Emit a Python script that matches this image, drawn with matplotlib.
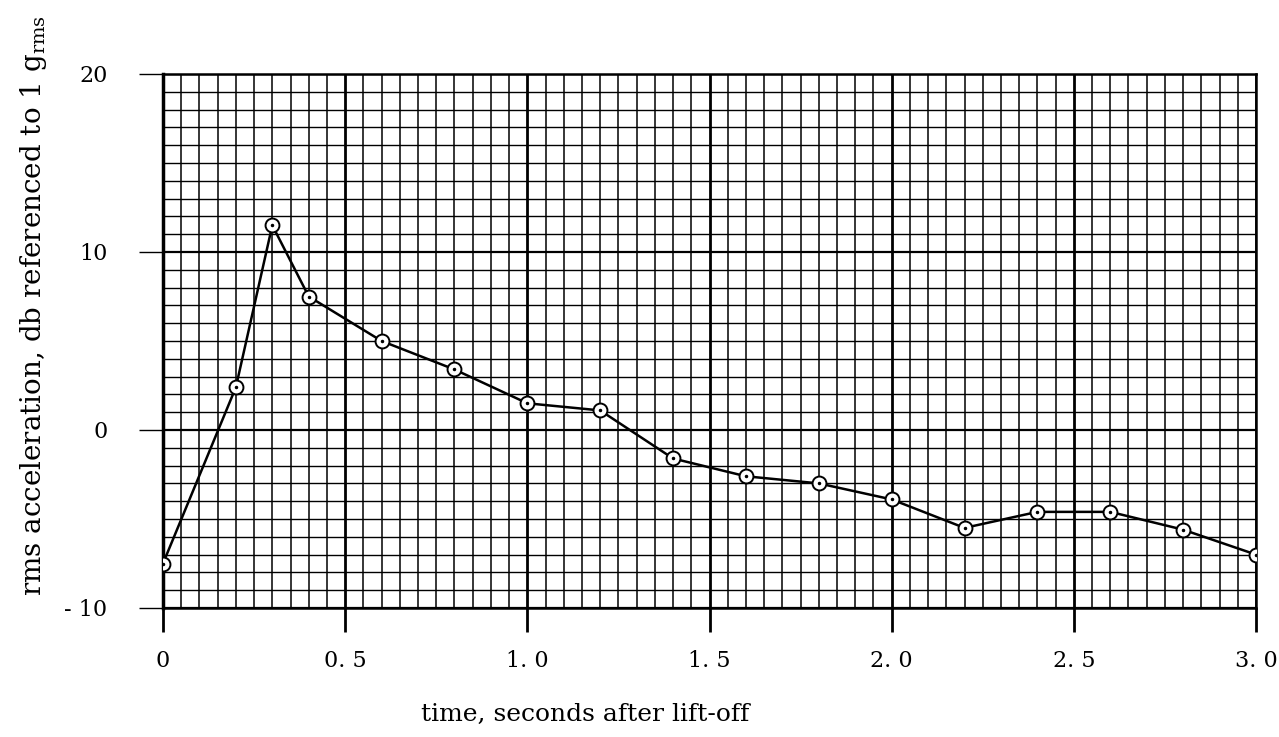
import matplotlib
matplotlib.use("Agg")
import matplotlib.pyplot as plt
import numpy as np

# values
time_s = [0.0, 0.2, 0.3, 0.4, 0.6, 0.8, 1.0, 1.2, 1.4, 1.6, 1.8, 2.0, 2.2, 2.4, 2.6, 2.8, 3.0]
accel_db = [-7.5, 2.4, 11.5, 7.5, 5.0, 3.4, 1.5, 1.1, -1.6, -2.6, -3.0, -3.9, -5.5, -4.6, -4.6, -5.6, -7.0]

x_ticks = [0, 0.5, 1.0, 1.5, 2.0, 2.5, 3.0]
x_tick_labels = ["0", "0. 5", "1. 0", "1. 5", "2. 0", "2. 5", "3. 0"]
y_ticks = [-10, 0, 10, 20]
y_tick_labels = ["- 10", "0", "10", "20"]

plt.rcParams['font.family'] = ['DejaVu Serif']
plt.rcParams['mathtext.fontset'] = 'dejavuserif'

fig = plt.figure(figsize=(12.79, 7.37), dpi=100)
ax = fig.add_axes([163 / 1279, 1 - 608 / 737, (1256 - 163) / 1279, (608 - 74) / 737])

ax.set_xlim(0, 3.0)
ax.set_ylim(-10, 20)

# graph paper grid
for xv in np.arange(0, 3.0001, 0.05):
    major = abs(xv / 0.5 - round(xv / 0.5)) < 1e-6
    ax.axvline(xv, color='black', lw=2.0 if major else 1.1, zorder=1)
for yv in np.arange(-10, 20.001, 1):
    major = abs(yv / 10 - round(yv / 10)) < 1e-6
    ax.axhline(yv, color='black', lw=1.6 if major else 1.0, zorder=1)

ax.plot(time_s, accel_db, color='black', lw=1.8, marker='o', markersize=10,
        markerfacecolor='white', markeredgecolor='black', markeredgewidth=1.4, zorder=3)
ax.plot(time_s, accel_db, linestyle='none', marker='.', markersize=3, color='black', zorder=4)

ax.set_xticks(x_ticks)
ax.set_xticklabels(x_tick_labels)
ax.set_yticks(y_ticks)
ax.set_yticklabels(y_tick_labels)
ax.tick_params(axis='x', direction='out', length=17, width=2, pad=13, labelsize=16)
ax.tick_params(axis='y', direction='out', length=17, width=1, pad=23, labelsize=16)

ax.spines['left'].set_linewidth(2.5)
for side in ['right', 'top', 'bottom']:
    ax.spines[side].set_linewidth(1.8)

ax.set_xlabel('time, seconds after lift-off', fontsize=18)
ax.xaxis.set_label_coords(0.386, -0.178)
ax.set_ylabel(r'rms acceleration, db referenced to 1 g$_{\mathrm{rms}}$', fontsize=20)
ax.yaxis.set_label_coords(-0.104, 0.567)

fig.savefig('out.png', dpi=100)
